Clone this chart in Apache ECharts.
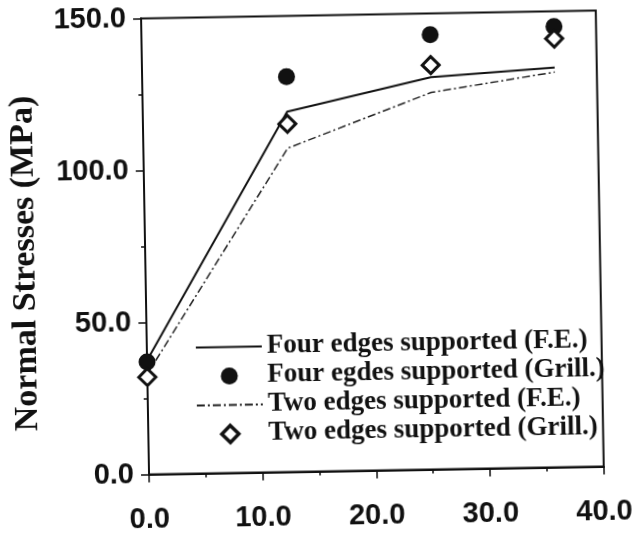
<!DOCTYPE html>
<html>
<head>
<meta charset="utf-8">
<script src="https://cdn.jsdelivr.net/npm/echarts@6/dist/echarts.min.js"></script>
<style>
  html, body { margin: 0; padding: 0; background: #fff; }
  #chart {
    width: 636px; height: 534px;
    transform: rotate(-1deg);
    transform-origin: 371px 241px;
  }
</style>
</head>
<body>
<div id="chart"></div>
<script>
// Plate width parameter on the horizontal axis
const widths = [0, 12.7, 25.4, 36.3];

// Normal stresses (MPa)
const fourEdgesFE    = [37.5, 118.5, 129.0, 131.5];
const fourEdgesGrill = [37.0, 130.0, 143.0, 145.0];
const twoEdgesFE     = [33.0, 106.5, 124.0, 130.0];
const twoEdgesGrill  = [32.0, 114.5, 133.0, 141.0];

const seriesNames = [
  'Four edges supported (F.E.)',
  'Four egdes supported (Grill.)',
  'Two edges supported (F.E.)',
  'Two edges supported (Grill.)'
];

const xTicks = { min: 0, max: 40, interval: 10 };
const yTicks = { min: 0, max: 150, interval: 50 };

const pairs = (ys) => widths.map((x, i) => [x, ys[i]]);

const sansBold = { fontFamily: 'Liberation Sans, Arial, sans-serif', fontWeight: 'bold', color: '#111' };
const serifBold = { fontFamily: 'Liberation Serif, Times New Roman, serif', fontWeight: 'bold', color: '#111' };

// Square-aspect diamond outline used for the legend key
const diamondPath = 'path://M0,-10L10,0L0,10L-10,0Z';

const chart = echarts.init(document.getElementById('chart'));
chart.setOption({
  backgroundColor: '#fff',
  animation: false,
  grid: {
    left: 141.75, right: 36.25, top: 12.5, bottom: 63.5,
    show: true, borderColor: '#111', borderWidth: 2, backgroundColor: 'transparent'
  },
  legend: {
    orient: 'vertical',
    left: 188, top: 325,
    itemWidth: 66, itemHeight: 17, itemGap: 0,
    selectedMode: false,
    symbolKeepAspect: true,
    textStyle: Object.assign({ fontSize: 27, lineHeight: 29 }, serifBold),
    data: [
      { name: seriesNames[0], itemStyle: { opacity: 0 } },
      { name: seriesNames[1] },
      { name: seriesNames[2], itemStyle: { opacity: 0 } },
      {
        name: seriesNames[3], icon: diamondPath,
        itemStyle: { color: '#fff', borderColor: '#111', borderWidth: 3.5 }
      }
    ]
  },
  xAxis: {
    type: 'value',
    min: xTicks.min, max: xTicks.max, interval: xTicks.interval,
    axisLine: { show: true, lineStyle: { color: '#111', width: 2 } },
    axisTick: { show: true, inside: false, length: 8, lineStyle: { color: '#111', width: 1.5 } },
    minorTick: { show: true, splitNumber: 2, length: 4, lineStyle: { color: '#111', width: 1.5 } },
    splitLine: { show: false },
    axisLabel: Object.assign({ fontSize: 29, margin: 31, formatter: v => v.toFixed(1) }, sansBold)
  },
  yAxis: {
    type: 'value',
    min: yTicks.min, max: yTicks.max, interval: yTicks.interval,
    name: 'Normal Stresses (MPa)',
    nameLocation: 'middle',
    nameGap: 103,
    nameTextStyle: Object.assign({ fontSize: 34, padding: [0, 30, 0, 0] }, serifBold),
    axisLine: { show: true, lineStyle: { color: '#111', width: 2 } },
    axisTick: { show: true, inside: false, length: 8, lineStyle: { color: '#111', width: 1.5 } },
    minorTick: { show: true, splitNumber: 2, length: 4, lineStyle: { color: '#111', width: 1.5 } },
    splitLine: { show: false },
    axisLabel: Object.assign({ fontSize: 29, margin: 15, formatter: v => v.toFixed(1) }, sansBold)
  },
  series: [
    {
      name: seriesNames[0], type: 'line', data: pairs(fourEdgesFE),
      symbol: 'none', z: 2,
      lineStyle: { color: '#111', width: 2, type: 'solid' },
      itemStyle: { color: '#111' }
    },
    {
      name: seriesNames[1], type: 'scatter', data: pairs(fourEdgesGrill),
      symbol: 'circle', symbolSize: 17, z: 3,
      itemStyle: { color: '#111', opacity: 1 }
    },
    {
      name: seriesNames[2], type: 'line', data: pairs(twoEdgesFE),
      symbol: 'none', z: 2,
      lineStyle: { color: '#222', width: 1.5, type: [8, 3, 2, 3] },
      itemStyle: { color: '#222' }
    },
    {
      name: seriesNames[3], type: 'scatter', data: pairs(twoEdgesGrill),
      symbol: 'diamond', symbolSize: 17, z: 4,
      itemStyle: { color: '#fff', borderColor: '#111', borderWidth: 3, opacity: 1 }
    }
  ]
});
</script>
</body>
</html>
